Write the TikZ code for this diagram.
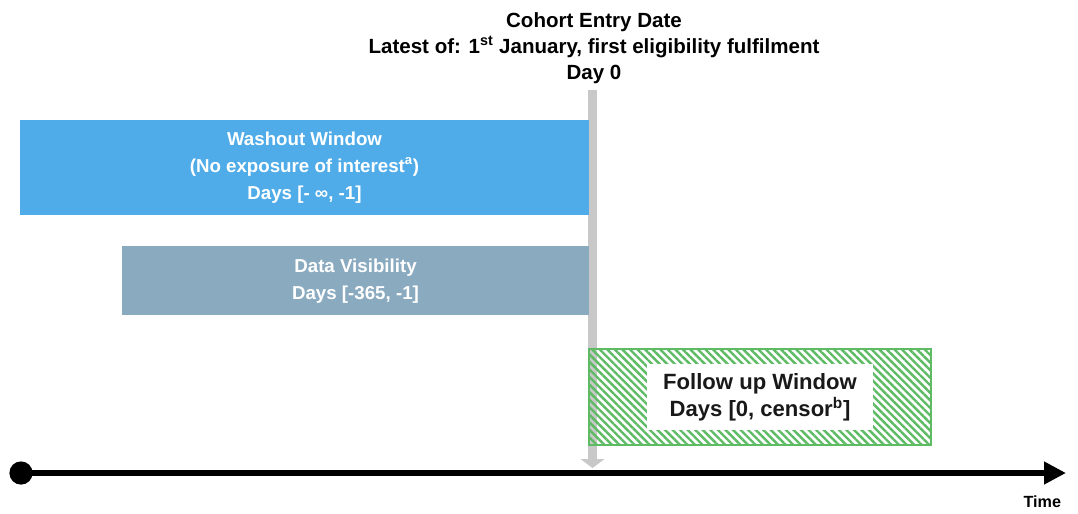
\documentclass[tikz,border=0pt]{standalone}
\usepackage{fontspec}
\setmainfont{Liberation Sans}
\usetikzlibrary{arrows.meta, positioning, patterns.meta}
\definecolor{washblue}{RGB}{79, 172, 232}
\definecolor{visgrey}{RGB}{138, 170, 192}
\definecolor{followgreen}{RGB}{93, 187, 99}
\definecolor{dayzero}{RGB}{200, 200, 200}

\begin{document}
\begin{tikzpicture}[
    x=0.025cm, y=-0.025cm,
    title/.style={align=center, font=\bfseries\fontsize{14.6}{18.6}\selectfont},
    window/.style={align=center, text=white, inner sep=0pt, font=\bfseries\fontsize{13.3}{19.2}\selectfont},
    washout/.style={window, fill=washblue, minimum width=14.225cm, minimum height=2.375cm},
    visibility/.style={window, fill=visgrey, minimum width=11.675cm, minimum height=1.725cm},
    followbox/.style={draw=followgreen, line width=1.5pt, inner sep=0pt, minimum width=8.55cm, minimum height=2.4cm,
        pattern={Lines[angle=-45, distance=3.8pt, line width=1.7pt]}, pattern color=followgreen},
    followtxt/.style={fill=white, align=center, inner sep=0pt, minimum width=5.65cm, minimum height=1.65cm,
        text=black!90, font=\bfseries\fontsize{15.7}{19.2}\selectfont},
    dayline/.style={-{Triangle[length=2.2mm, width=5.8mm]}, dayzero, line width=6.4pt},
    axis/.style={-{Triangle[length=5.5mm, width=5.4mm]}, line width=4.3pt},
    dot/.style={circle, fill=black, inner sep=0pt, minimum size=0.58cm}
]
\useasboundingbox (0,0) rectangle (1078,513);

% Cohort entry
\node[title] (entry) at (594,48) {Cohort Entry Date\\
    Latest of: 1\textsuperscript{st} January, first eligibility fulfilment\\
    Day 0};
\coordinate (d0top) at (592.5,90);
\coordinate (d0bot) at (592.5,468);
\draw[dayline] (d0top) -- (d0bot);

% Windows
\node[washout] (wash) at (304.5,167.5) {Washout Window\\
    (No exposure of interest\textsuperscript{a})\\
    Days [- ∞, -1]};
\node[visibility, text depth=0.05cm] (vis) at (355.5,280.5) {Data Visibility\\
    Days [-365, -1]};
\node[followbox] (follow) at (760,397) {};
\node[followtxt] (followlbl) at (follow.center) {Follow up Window\\
    Days [0, censor\textsuperscript{b}]};

% Time axis
\node[dot] (t0) at (21,473) {};
\coordinate (t1) at (1066,473);
\draw[axis] (t0.center) -- (t1);
\node[font=\bfseries\fontsize{11.5}{13}\selectfont, anchor=north east] (time) at (1066,491) {Time};

\end{tikzpicture}
\end{document}
